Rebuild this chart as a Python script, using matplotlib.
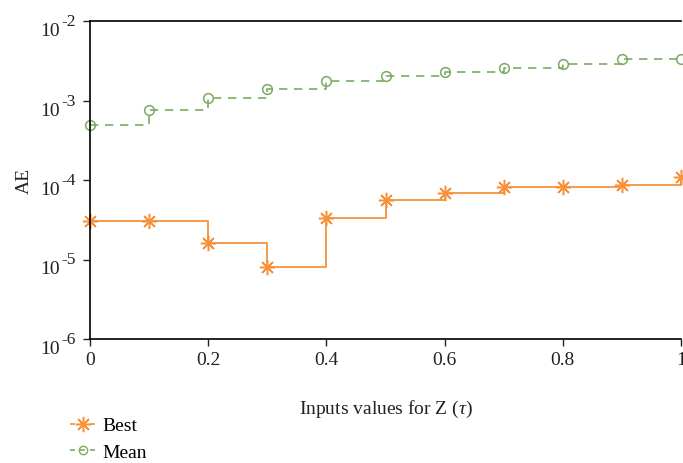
import numpy as np
import matplotlib.pyplot as plt
from matplotlib.lines import Line2D
from matplotlib.ticker import NullLocator

plt.rcParams['font.family'] = ['Liberation Serif', 'DejaVu Serif']
plt.rcParams['mathtext.fontset'] = 'custom'
plt.rcParams['mathtext.rm'] = 'Liberation Serif'
plt.rcParams['mathtext.it'] = 'Liberation Serif:italic'

# Data
tau = [0.0, 0.1, 0.2, 0.3, 0.4, 0.5, 0.6, 0.7, 0.8, 0.9, 1.0]
best = [3.05e-5, 3.05e-5, 1.62e-5, 8.05e-6, 3.33e-5, 5.6e-5,
        6.9e-5, 8.1e-5, 8.1e-5, 8.7e-5, 1.08e-4]
mean = [4.92e-4, 7.6e-4, 1.07e-3, 1.40e-3, 1.76e-3, 2.04e-3,
        2.28e-3, 2.56e-3, 2.85e-3, 3.36e-3, 3.36e-3]
decades = [-6, -5, -4, -3, -2]

orange = '#f7923a'
green = '#7aab62'
txt = '#222222'

fig = plt.figure(figsize=(6.83, 4.64), dpi=100)
ax = fig.add_axes([90 / 683, 1 - 340 / 464, 591 / 683, 318 / 464])

ax.plot(tau, best, drawstyle='steps-post', color=orange, lw=1.3,
        marker=(8, 2, 0), markersize=11, markeredgewidth=1.1, clip_on=False)
ax.plot(tau, mean, drawstyle='steps-post', color=green, lw=1.2,
        linestyle=(0, (5, 4)), marker='o', markersize=7,
        markerfacecolor='none', markeredgewidth=1.1, clip_on=False)

ax.set_yscale('log')
ax.set_ylim(1e-6, 1e-2)
ax.set_xlim(0, 1)
ax.set_xticks([0, 0.2, 0.4, 0.6, 0.8, 1.0])
ax.set_xticklabels(['0', '0.2', '0.4', '0.6', '0.8', '1'])
ax.set_yticks([10.0 ** d for d in decades])
ax.set_yticklabels([])
ax.yaxis.set_minor_locator(NullLocator())
ax.tick_params(direction='out', length=5, width=1, labelsize=14, colors=txt)
ax.spines['right'].set_visible(False)
for s in ['left', 'bottom', 'top']:
    ax.spines[s].set_linewidth(1.2)

# y tick labels written as "10" with a large raised exponent
for d in decades:
    ax.annotate('10', xy=(0, 10.0 ** d), xycoords=('axes fraction', 'data'),
                xytext=(-30, -14), textcoords='offset pixels',
                ha='right', va='baseline', fontsize=14, color=txt,
                annotation_clip=False)
    ax.annotate(str(d), xy=(0, 10.0 ** d), xycoords=('axes fraction', 'data'),
                xytext=(-29, -4), textcoords='offset pixels',
                ha='left', va='baseline', fontsize=12.5, color=txt,
                annotation_clip=False)

ax.set_ylabel('AE', fontsize=14, color=txt)
ax.yaxis.set_label_coords(-0.097, 0.5)
ax.set_xlabel(r'Inputs values for Z ($\tau$)', fontsize=14, color=txt)
ax.xaxis.set_label_coords(0.5, -0.185)

handles = [
    Line2D([], [], color=orange, linestyle=(0, (3, 3)), lw=1.2,
           marker=(8, 2, 0), markersize=11, markeredgewidth=1.1),
    Line2D([], [], color=green, linestyle=(0, (3, 3)), lw=1.2,
           marker='o', markersize=6, markerfacecolor='none'),
]
fig.legend(handles, ['Best', 'Mean'], loc='upper left',
           bbox_to_anchor=(62 / 683, 1 - 410 / 464), frameon=False,
           fontsize=14, handlelength=1.4, handletextpad=0.3,
           labelspacing=0.45, borderaxespad=0)

fig.savefig('out.png', dpi=100)
